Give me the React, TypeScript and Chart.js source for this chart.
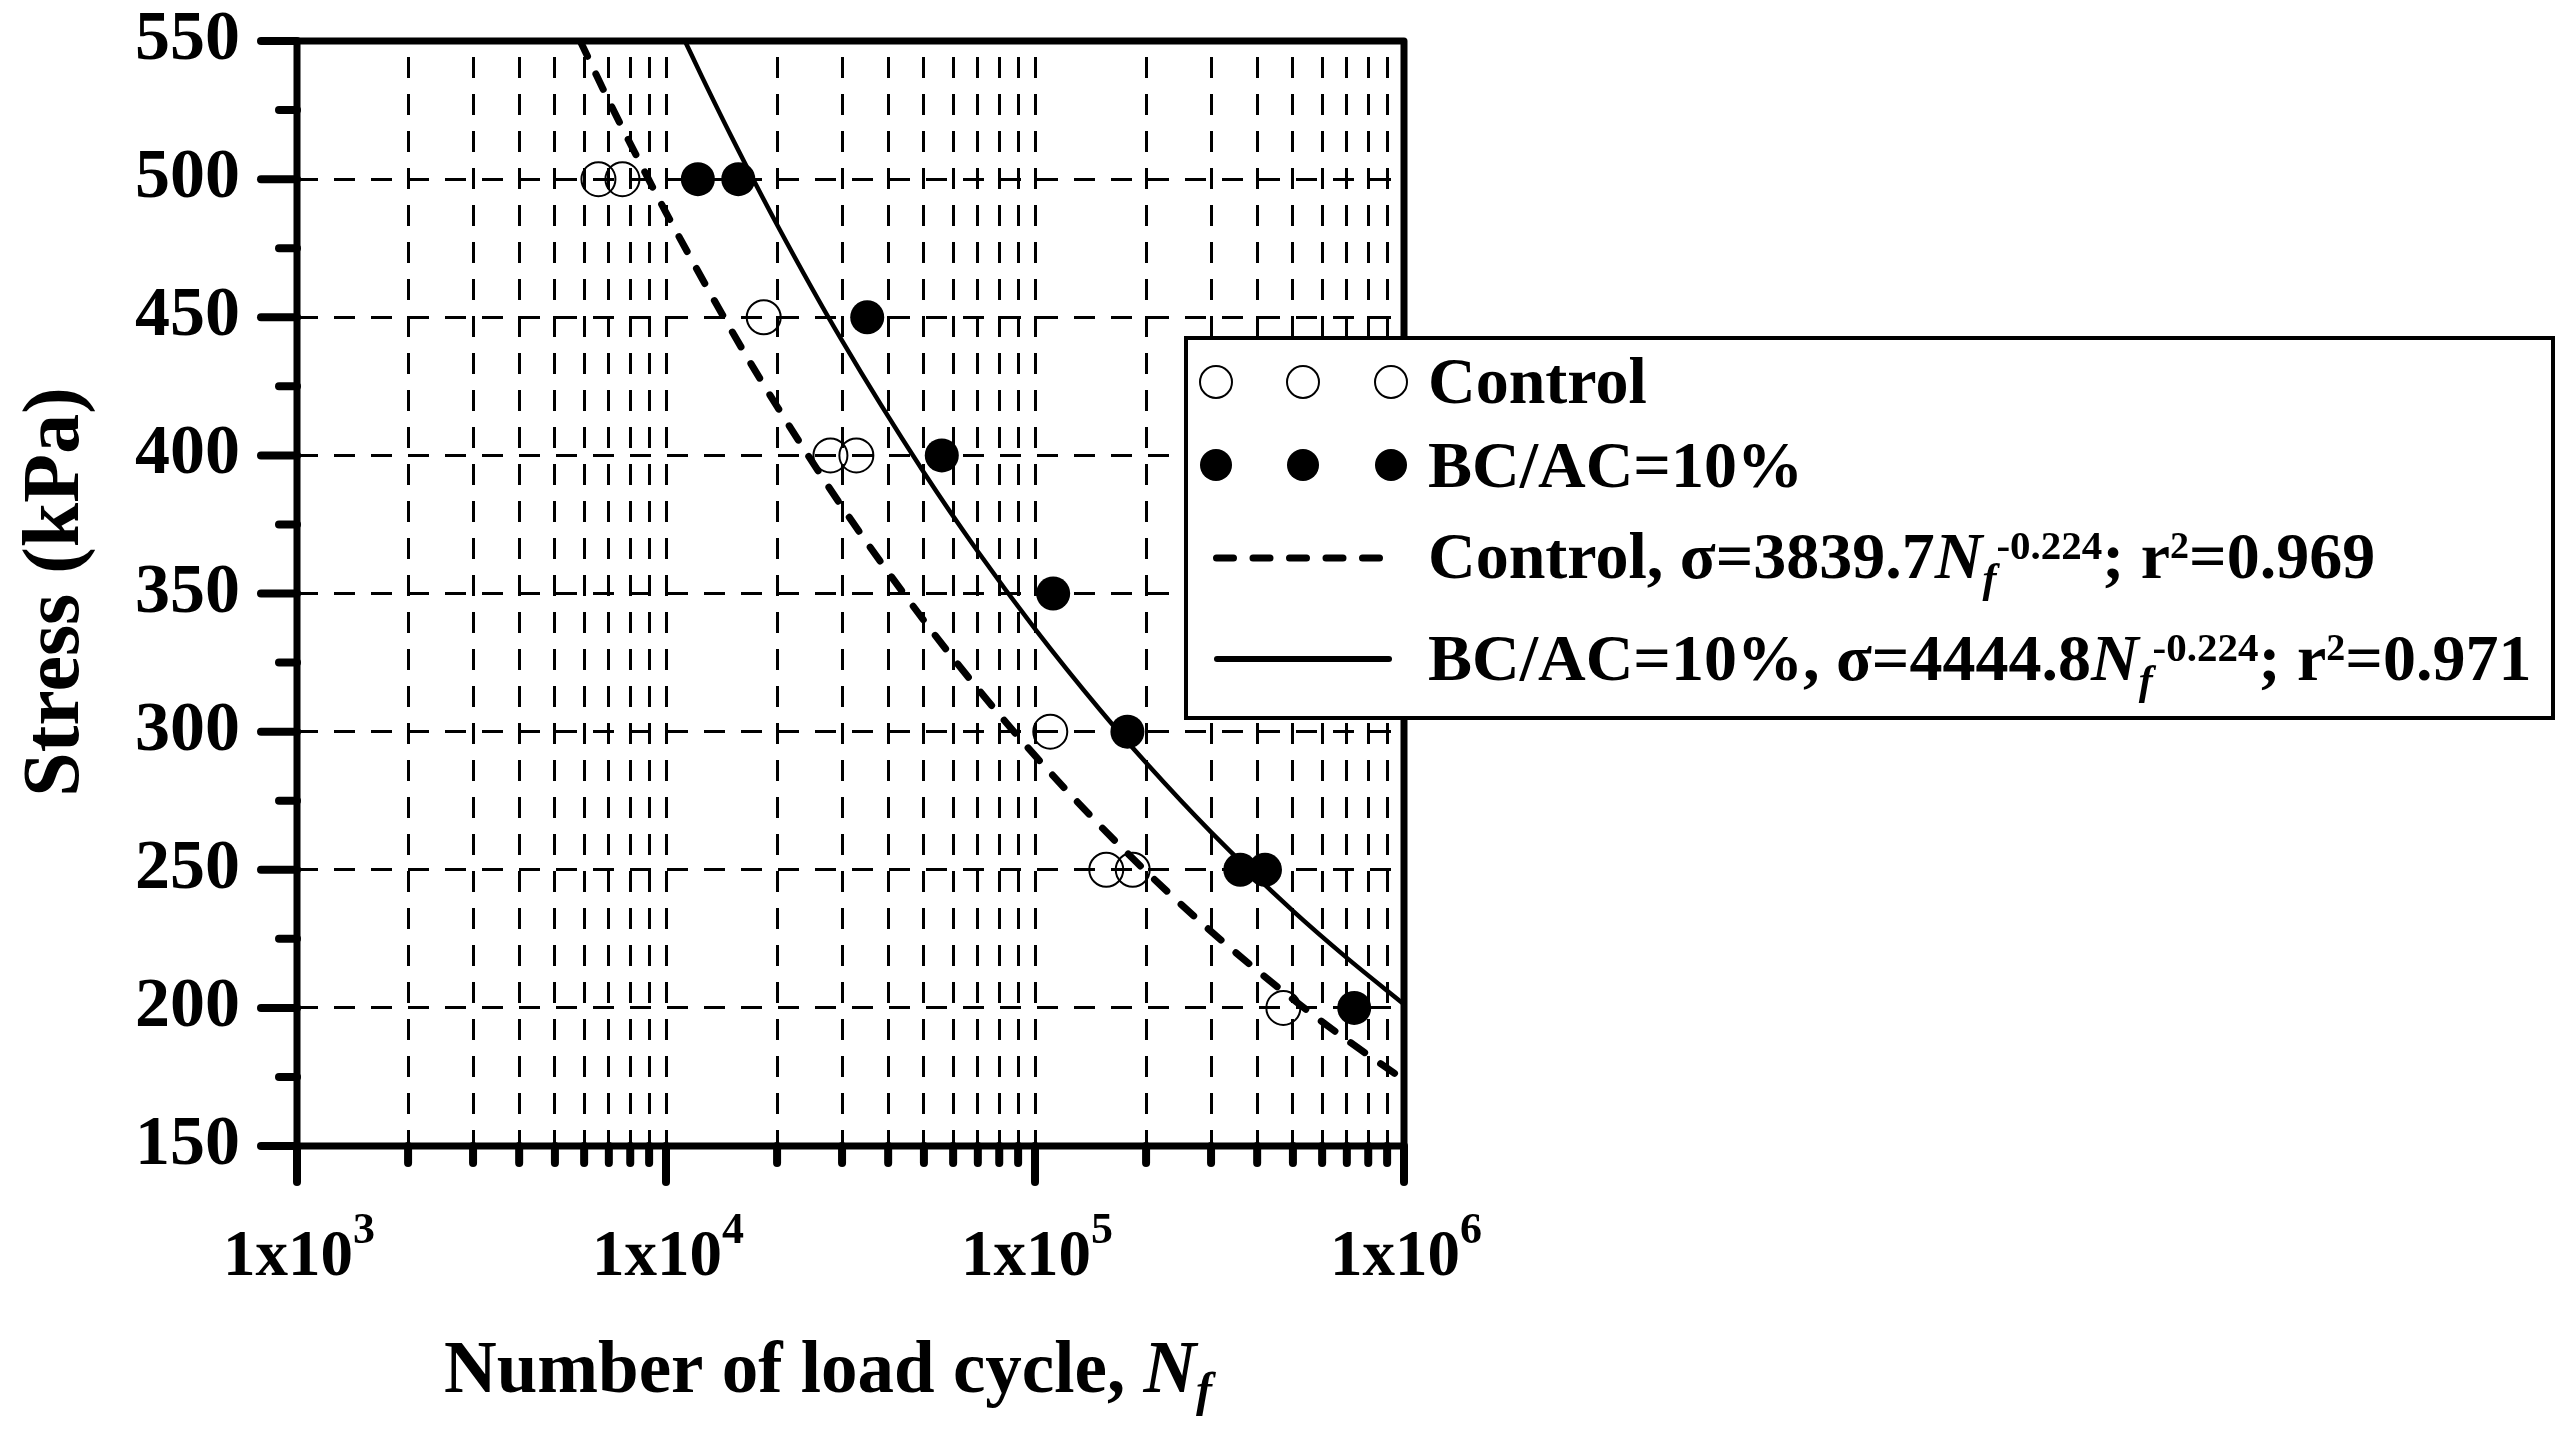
import React, { useEffect, useRef } from 'react';
import { Chart, registerables } from 'chart.js';

Chart.register(...registerables);

// ---- data ----
const controlN = [6560, 7620, 18400, 27900, 32800, 110000, 156000, 184000, 471000];
const controlStress = [500, 500, 450, 400, 400, 300, 250, 250, 200];

const bcN = [12200, 15700, 35100, 55900, 112000, 178000, 360000, 420000, 733000];
const bcStress = [500, 500, 450, 400, 350, 300, 250, 250, 200];

// fitted curves
const controlFitN = [5855, 7000, 8500, 10000, 15000, 20000, 30000, 50000, 70000, 100000, 150000, 200000, 300000, 500000, 700000, 1000000];
const controlFitStress = [550, 528.3, 506.0, 487.9, 445.5, 417.7, 381.4, 340.2, 315.5, 291.3, 266.0, 249.4, 227.7, 203.1, 188.4, 173.9];

const bcFitN = [11253, 12500, 15000, 20000, 30000, 50000, 70000, 100000, 150000, 200000, 300000, 500000, 700000, 1000000];
const bcFitStress = [550, 537.2, 515.7, 483.5, 441.5, 393.8, 365.2, 337.2, 307.9, 288.7, 263.6, 235.1, 218.1, 201.3];

// axis ticks
const xGridTicks = [
  1000, 2000, 3000, 4000, 5000, 6000, 7000, 8000, 9000,
  10000, 20000, 30000, 40000, 50000, 60000, 70000, 80000, 90000,
  100000, 200000, 300000, 400000, 500000, 600000, 700000, 800000, 900000,
  1000000,
];
const xMajorTicks = [1000, 10000, 100000, 1000000];
const xMajorExponents = ['3', '4', '5', '6'];
const yMajorTicks = [150, 200, 250, 300, 350, 400, 450, 500, 550];
const yMinorTicks = [175, 225, 275, 325, 375, 425, 475, 525];

const xTitle = 'Number of load cycle, ';
const yTitle = 'Stress (kPa)';
const legendNames = ['Control', 'BC/AC=10%'];

const FAMILY = '"Liberation Serif", "Times New Roman", Times, serif';

type Seg = { t: string; size: number; italic?: boolean; dy?: number };

function fontOf(s: Seg) {
  return `${s.italic ? 'italic ' : ''}bold ${s.size}px ${FAMILY}`;
}

function drawRich(ctx: CanvasRenderingContext2D, segs: Seg[], x: number, y: number, align: 'left' | 'center') {
  let w = 0;
  for (const s of segs) {
    ctx.font = fontOf(s);
    w += ctx.measureText(s.t).width;
  }
  let cx = align === 'center' ? x - w / 2 : x;
  ctx.textAlign = 'left';
  ctx.textBaseline = 'alphabetic';
  for (const s of segs) {
    ctx.font = fontOf(s);
    ctx.fillText(s.t, cx, y + (s.dy || 0));
    cx += ctx.measureText(s.t).width;
  }
}

const decorPlugin = {
  id: 'decor',
  afterDraw(chart: any) {
    const { ctx, chartArea: ca, scales } = chart;
    const xs = scales.x;
    const ys = scales.y;
    ctx.save();
    ctx.strokeStyle = '#000';
    ctx.fillStyle = '#000';

    // frame
    ctx.lineWidth = 7;
    ctx.lineJoin = 'round';
    ctx.strokeRect(ca.left, ca.top, ca.right - ca.left, ca.bottom - ca.top);

    // tick marks
    const seg = (x1: number, y1: number, x2: number, y2: number) => {
      ctx.beginPath();
      ctx.moveTo(x1, y1);
      ctx.lineTo(x2, y2);
      ctx.stroke();
    };
    ctx.lineCap = 'round';
    ctx.lineWidth = 8;
    yMajorTicks.forEach((v) => {
      const y = ys.getPixelForValue(v);
      seg(ca.left, y, ca.left - 36, y);
    });
    yMinorTicks.forEach((v) => {
      const y = ys.getPixelForValue(v);
      seg(ca.left, y, ca.left - 18, y);
    });
    xGridTicks.forEach((v) => {
      const x = xs.getPixelForValue(v);
      const major = xMajorTicks.includes(v);
      seg(x, ca.bottom, x, ca.bottom + (major ? 36 : 17));
    });

    // x tick labels 1x10^n
    xMajorTicks.forEach((v, i) => {
      const x = xs.getPixelForValue(v);
      drawRich(ctx, [
        { t: '1x10', size: 65 },
        { t: xMajorExponents[i], size: 44, dy: -32 },
      ], x + 2, 1275, 'center');
    });

    // x title
    drawRich(ctx, [
      { t: xTitle, size: 73 },
      { t: 'N', size: 73, italic: true },
      { t: 'f', size: 48, italic: true, dy: 14 },
    ], 828, 1392, 'center');

    // y title
    ctx.save();
    ctx.translate(78, 592);
    ctx.rotate(-Math.PI / 2);
    ctx.font = `bold 80px ${FAMILY}`;
    ctx.textAlign = 'center';
    ctx.textBaseline = 'alphabetic';
    ctx.fillText(yTitle, 0, 0);
    ctx.restore();

    // legend box
    const L = 1186, T = 338, R = 2553, B = 718;
    ctx.fillStyle = '#fff';
    ctx.fillRect(L, T, R - L, B - T);
    ctx.lineWidth = 4;
    ctx.lineJoin = 'miter';
    ctx.strokeRect(L, T, R - L, B - T);
    ctx.fillStyle = '#000';

    const symX = [1216, 1303, 1391];
    // row 1: open circles
    ctx.lineWidth = 2;
    symX.forEach((cx) => {
      ctx.beginPath();
      ctx.arc(cx, 382, 16, 0, Math.PI * 2);
      ctx.stroke();
    });
    // row 2: filled circles
    symX.forEach((cx) => {
      ctx.beginPath();
      ctx.arc(cx, 465, 16, 0, Math.PI * 2);
      ctx.fill();
    });
    // row 3: dashed line
    ctx.lineCap = 'round';
    ctx.lineWidth = 7;
    ctx.setLineDash([17, 19.5]);
    seg(1216.5, 558, 1381, 558);
    ctx.setLineDash([]);
    // row 4: solid line
    ctx.lineWidth = 6;
    seg(1217, 659, 1389, 659);

    const tx = 1428;
    drawRich(ctx, [{ t: legendNames[0], size: 66 }], tx, 403, 'left');
    drawRich(ctx, [{ t: legendNames[1], size: 66 }], tx, 487, 'left');
    drawRich(ctx, [
      { t: 'Control, \u03c3=3839.7', size: 66 },
      { t: 'N', size: 66, italic: true },
      { t: 'f', size: 42, italic: true, dy: 14 },
      { t: '-0.224', size: 41, dy: -19 },
      { t: '; r', size: 66 },
      { t: '2', size: 38, dy: -20 },
      { t: '=0.969', size: 66 },
    ], tx, 578, 'left');
    drawRich(ctx, [
      { t: 'BC/AC=10%, \u03c3=4444.8', size: 66 },
      { t: 'N', size: 66, italic: true },
      { t: 'f', size: 42, italic: true, dy: 14 },
      { t: '-0.224', size: 41, dy: -19 },
      { t: '; r', size: 66 },
      { t: '2', size: 38, dy: -20 },
      { t: '=0.971', size: 66 },
    ], tx, 680, 'left');

    ctx.restore();
  },
};

export default function App() {
  const canvasRef = useRef<HTMLCanvasElement | null>(null);

  useEffect(() => {
    const canvas = canvasRef.current;
    if (!canvas) return;
    const chart = new Chart(canvas, {
      type: 'scatter',
      data: {
        datasets: [
          {
            type: 'scatter',
            label: legendNames[0],
            data: controlN.map((n, i) => ({ x: n, y: controlStress[i] })),
            pointRadius: 17,
            pointHoverRadius: 17,
            pointBackgroundColor: 'rgba(0,0,0,0)',
            pointBorderColor: '#000',
            pointBorderWidth: 2,
            order: 0,
          },
          {
            type: 'scatter',
            label: legendNames[1],
            data: bcN.map((n, i) => ({ x: n, y: bcStress[i] })),
            pointRadius: 17,
            pointHoverRadius: 17,
            pointBackgroundColor: '#000',
            pointBorderColor: '#000',
            pointBorderWidth: 0,
            order: 0,
          },
          {
            type: 'line',
            label: 'Control fit',
            data: controlFitN.map((n, i) => ({ x: n, y: controlFitStress[i] })),
            borderColor: '#000',
            borderWidth: 7,
            borderDash: [17, 19.5],
            borderCapStyle: 'round',
            pointRadius: 0,
            fill: false,
            cubicInterpolationMode: 'monotone',
            order: 1,
          },
          {
            type: 'line',
            label: 'BC/AC=10% fit',
            data: bcFitN.map((n, i) => ({ x: n, y: bcFitStress[i] })),
            borderColor: '#000',
            borderWidth: 4.5,
            pointRadius: 0,
            fill: false,
            cubicInterpolationMode: 'monotone',
            order: 1,
          },
        ],
      } as any,
      options: {
        responsive: false,
        animation: false,
        devicePixelRatio: 1,
        events: [],
        layout: { padding: { left: 0, top: 41, right: 1162, bottom: 0 }, autoPadding: false },
        plugins: {
          legend: { display: false },
          tooltip: { enabled: false },
          title: { display: false },
        },
        scales: {
          x: {
            type: 'logarithmic',
            min: 1000,
            max: 1000000,
            position: 'bottom',
            afterBuildTicks: (s: any) => {
              s.ticks = xGridTicks.map((v) => ({ value: v }));
            },
            afterFit: (s: any) => {
              s.height = 291;
              s.paddingLeft = 0;
              s.paddingRight = 0;
              s.paddingTop = 0;
              s.paddingBottom = 0;
            },
            ticks: { display: false },
            grid: { color: '#000', lineWidth: 3, drawTicks: false },
            border: { display: false, dash: [21, 16], dashOffset: 21 },
          },
          y: {
            type: 'linear',
            min: 150,
            max: 550,
            position: 'left',
            afterBuildTicks: (s: any) => {
              s.ticks = yMajorTicks.map((v) => ({ value: v }));
            },
            afterFit: (s: any) => {
              s.width = 297;
              s.paddingTop = 0;
              s.paddingBottom = 0;
              s.paddingLeft = 0;
              s.paddingRight = 0;
            },
            ticks: {
              color: '#000',
              padding: 57,
              font: { family: FAMILY, size: 70, weight: 'bold', lineHeight: 1 },
            },
            grid: { color: '#000', lineWidth: 3, drawTicks: false },
            border: { display: false, dash: [21, 16], dashOffset: 0 },
          },
        },
      } as any,
      plugins: [decorPlugin],
    });
    return () => chart.destroy();
  }, []);

  return (
    <div style={{ position: 'fixed', left: 0, top: 0, width: 2566, height: 1437, background: '#fff' }}>
      <canvas ref={canvasRef} width={2566} height={1437} style={{ width: 2566, height: 1437, display: 'block' }} />
    </div>
  );
}
